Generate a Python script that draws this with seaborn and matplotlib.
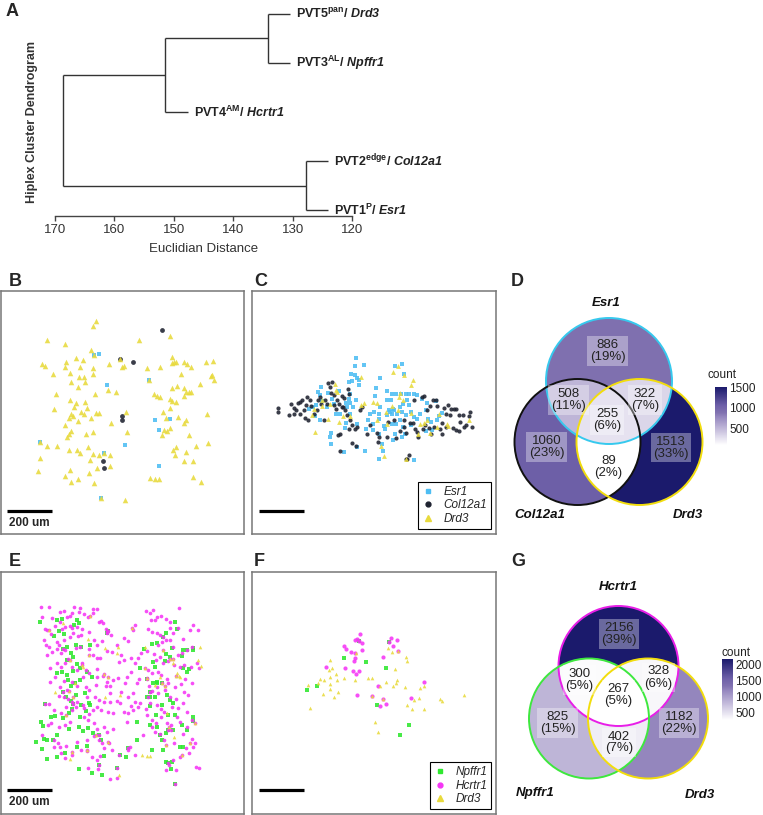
import numpy as np
import matplotlib
matplotlib.use("Agg")
import matplotlib.pyplot as plt
import seaborn as sns
from matplotlib.patches import Circle
from matplotlib.colors import LinearSegmentedColormap, Normalize
from matplotlib.lines import Line2D

sns.set_theme(style="white")
plt.rcParams["font.family"] = ["Liberation Sans", "DejaVu Sans"]
plt.rcParams["mathtext.fontset"] = "custom"
plt.rcParams["mathtext.rm"] = "Liberation Sans"
plt.rcParams["mathtext.bf"] = "Liberation Sans:bold"
plt.rcParams["mathtext.it"] = "Liberation Sans:italic"
try:
    plt.rcParams["mathtext.bfit"] = "Liberation Sans:bold:italic"
    BFIT = r"\mathbfit"
except KeyError:
    BFIT = r"\mathit"

# ---------------- data ----------------
# A: dendrogram (Euclidian distance of merges)
leaf_names = ["PVT5", "PVT3", "PVT4", "PVT2", "PVT1"]
leaf_sup = ["pan", "AL", "AM", "edge", "P"]
leaf_genes = ["Drd3", "Npffr1", "Hcrtr1", "Col12a1", "Esr1"]
h_53 = 134.2
h_534 = 151.4
h_21 = 127.8
h_root = 168.7
hang = 3.8
dist_ticks = [170, 160, 150, 140, 130, 120]

# spatial coordinates (image px, y down); 200 um bar = 135 px
UM_BAR = 200
PX_PER_UM = 135 / 200

b_esr1 = np.array([(282, 344), (298, 342), (322, 434), (446, 419), (465, 540), (509, 536),
                   (477, 570), (374, 614), (119, 605), (311, 638), (476, 676), (304, 773)])
b_col12a1 = np.array([(487, 269), (398, 366), (360, 355), (365, 528), (366, 540), (309, 661),
                      (311, 682)])
b_drd3 = np.array([
    (287, 243), (280, 256), (142, 300), (195, 312), (417, 300), (510, 288), (272, 328), (126, 372),
    (134, 378), (198, 366), (229, 352), (250, 358), (195, 380), (239, 379), (278, 382), (327, 372),
    (365, 380), (372, 376), (440, 384), (481, 381), (517, 350), (522, 366), (517, 369), (528, 365),
    (552, 364), (560, 372), (574, 380), (618, 366), (640, 362), (158, 402), (209, 399), (278, 402),
    (238, 411), (251, 411), (254, 424), (214, 425), (233, 441), (324, 450), (349, 455), (286, 460),
    (542, 402), (637, 404), (643, 418), (634, 407), (600, 430), (516, 442), (531, 438), (553, 442),
    (558, 456), (566, 455), (572, 455), (552, 468), (167, 462), (462, 462), (470, 466), (479, 470),
    (510, 477), (517, 481), (528, 485), (162, 507), (210, 480), (227, 487), (223, 500), (256, 485),
    (261, 502), (242, 516), (253, 520), (287, 518), (298, 518), (214, 521), (220, 528), (208, 533),
    (234, 541), (273, 534), (378, 515), (334, 548), (489, 514), (510, 503), (535, 531), (497, 532),
    (557, 538), (551, 549), (622, 521), (196, 553), (214, 571), (206, 582), (202, 589), (258, 580),
    (280, 574), (380, 575), (493, 569), (502, 573), (511, 562), (485, 585), (566, 583), (142, 617),
    (172, 617), (207, 629), (230, 628), (240, 638), (264, 621), (296, 645), (278, 640), (330, 645),
    (529, 621), (518, 628), (526, 643), (557, 636), (587, 618), (624, 608), (120, 653), (271, 660),
    (291, 682), (330, 676), (552, 661), (580, 663), (115, 692), (210, 690), (196, 706), (266, 697),
    (213, 726), (234, 717), (281, 729), (450, 713), (466, 716), (478, 715), (580, 710), (603, 725),
    (375, 778), (282, 344), (446, 419), (119, 605), (311, 638), (304, 773), (360, 355)])

c_esr1 = np.array([
    (348, 352), (372, 374), (343, 377), (332, 400), (345, 405), (349, 412), (355, 418), (327, 425),
    (334, 423), (355, 435), (418, 414), (406, 444), (441, 452), (456, 462), (465, 377), (486, 372),
    (490, 402), (243, 440), (232, 455), (240, 465), (262, 459), (297, 453), (330, 460), (326, 477),
    (316, 488), (319, 500), (330, 488), (338, 500), (348, 478), (405, 468), (440, 478), (452, 480),
    (468, 462), (482, 460), (497, 460), (507, 462), (520, 460), (529, 465), (546, 475), (500, 478),
    (505, 495), (488, 490), (480, 500), (457, 506), (450, 516), (454, 522), (460, 510), (420, 500),
    (402, 515), (415, 520), (390, 522), (384, 540), (376, 567), (397, 552), (417, 535), (440, 525),
    (446, 510), (470, 520), (484, 516), (511, 515), (498, 525), (520, 530), (530, 535), (511, 555),
    (489, 560), (478, 540), (468, 550), (456, 552), (430, 558), (415, 580), (398, 570), (433, 565),
    (464, 580), (493, 580), (486, 590), (459, 600), (424, 612), (428, 633), (415, 655), (373, 632),
    (351, 620), (310, 635), (271, 578), (270, 590), (271, 612), (314, 562), (330, 520), (318, 548),
    (300, 520), (287, 520), (238, 540), (225, 528), (217, 500), (207, 505), (227, 495), (244, 483),
    (260, 500), (280, 490), (274, 475), (540, 520), (556, 510), (563, 535), (572, 545), (590, 540),
    (595, 528), (604, 518), (587, 483), (560, 487), (521, 660), (575, 568), (557, 572), (349, 552)])
c_col12a1 = np.array([
    (113, 503), (114, 514), (146, 524), (152, 492), (160, 502), (167, 510), (178, 520), (180, 485),
    (184, 480), (191, 508), (193, 532), (200, 470), (209, 480), (213, 498), (220, 522), (230, 510),
    (232, 478), (238, 470), (242, 492), (254, 478), (259, 490), (264, 428), (275, 425), (268, 440),
    (272, 458), (280, 465), (282, 495), (287, 505), (290, 478), (295, 490), (305, 500), (306, 468),
    (312, 473), (314, 510), (320, 525), (322, 445), (325, 460), (330, 540), (336, 555), (343, 565),
    (300, 580), (292, 583), (298, 632), (336, 607), (346, 618), (390, 553), (380, 580), (409, 578),
    (412, 606), (440, 590), (467, 592), (478, 573), (490, 560), (498, 578), (508, 549), (519, 549),
    (525, 565), (533, 590), (545, 470), (552, 466), (560, 510), (569, 497), (577, 478), (586, 480),
    (590, 498), (598, 565), (606, 580), (612, 502), (616, 520), (622, 495), (628, 525), (632, 505),
    (640, 506), (647, 506), (655, 525), (660, 545), (667, 524), (670, 560), (677, 554), (686, 527),
    (690, 515), (694, 560), (655, 572), (647, 570), (637, 563), (616, 560), (606, 548), (580, 560),
    (572, 580), (566, 562), (555, 555), (548, 565), (530, 575), (505, 645), (500, 655), (497, 657),
    (462, 540), (442, 545), (417, 590), (365, 500), (358, 510), (350, 560), (326, 567), (308, 500),
    (250, 540), (197, 495), (174, 488), (160, 520), (204, 540), (490, 540), (520, 480)])
c_drd3 = np.array([
    (225, 575), (285, 430), (290, 455), (288, 450), (268, 492), (262, 537), (246, 497), (222, 505),
    (214, 523), (297, 545), (309, 528), (362, 410), (362, 493), (370, 488), (398, 486), (410, 487),
    (454, 497), (474, 376), (458, 396), (490, 405), (517, 418), (513, 433), (480, 458), (487, 480),
    (473, 510), (512, 517), (540, 550), (552, 548), (560, 540), (570, 578), (590, 560), (620, 550),
    (624, 558), (686, 540), (436, 515), (441, 550), (410, 540), (421, 617), (430, 648), (497, 657),
    (532, 580), (595, 520), (475, 470), (245, 478), (328, 527)])

e_npffr1 = np.array([
    (121, 247), (172, 240), (187, 237), (163, 287), (178, 272), (192, 283), (222, 255), (232, 240),
    (238, 250), (202, 322), (212, 340), (228, 315), (243, 320), (270, 316), (200, 360), (219, 350),
    (230, 372), (240, 383), (218, 392), (185, 395), (170, 398), (200, 404), (205, 420), (214, 438),
    (224, 430), (240, 420), (262, 395), (276, 410), (255, 460), (229, 466), (197, 470), (212, 483),
    (242, 494), (216, 507), (258, 513), (269, 496), (166, 528), (189, 535), (208, 518), (240, 530),
    (268, 488), (124, 545), (154, 532), (130, 558), (170, 584), (207, 568), (238, 560), (250, 572),
    (265, 565), (280, 580), (131, 596), (108, 606), (125, 627), (140, 600), (160, 600), (194, 640),
    (232, 620), (262, 618), (302, 600), (313, 647), (142, 658), (172, 650), (237, 686), (275, 700),
    (306, 704), (360, 645), (377, 650), (412, 545), (410, 600), (431, 327), (421, 385), (457, 312),
    (471, 310), (490, 291), (499, 278), (526, 247), (532, 268), (517, 325), (548, 330), (560, 330),
    (580, 325), (546, 348), (509, 350), (498, 342), (458, 367), (466, 382), (470, 425), (458, 430),
    (472, 428), (485, 430), (450, 470), (466, 470), (500, 465), (510, 480), (520, 490), (525, 525),
    (505, 525), (487, 495), (468, 525), (451, 555), (470, 560), (480, 585), (498, 580), (520, 570),
    (560, 570), (545, 555), (548, 620), (490, 630), (457, 630), (486, 600), (498, 667), (517, 665),
    (513, 686), (541, 620), (580, 530), (580, 330), (550, 385), (566, 388), (560, 395), (578, 543),
    (442, 470), (449, 497), (494, 364),
    (190, 327), (134, 493), (190, 455), (220, 493), (297, 585), (297, 675), (352, 684), (384, 625),
    (440, 416), (450, 455), (525, 732), (505, 570), (505, 670), (320, 280), (325, 272)])
e_hcrtr1 = np.array([
    (124, 200), (148, 200), (181, 215), (193, 214), (222, 200), (240, 203), (278, 206), (290, 207),
    (125, 231), (157, 234), (165, 258), (181, 245), (200, 232), (210, 229), (216, 218), (238, 215),
    (251, 222), (185, 266), (195, 262), (211, 258), (215, 265), (232, 262), (246, 268), (264, 230),
    (278, 220), (297, 245), (303, 242), (308, 248), (317, 266), (321, 275), (333, 284), (134, 268),
    (140, 270), (152, 283), (132, 300), (137, 316), (146, 322), (170, 306), (176, 316), (193, 300),
    (210, 290), (219, 280), (233, 287), (244, 285), (267, 277), (283, 300), (291, 314), (306, 304),
    (350, 314), (372, 294), (385, 304), (398, 270), (404, 255), (140, 345), (156, 337), (170, 328),
    (184, 340), (195, 330), (228, 323), (239, 322), (266, 327), (278, 346), (290, 355), (301, 355),
    (321, 333), (335, 335), (150, 385), (170, 370), (182, 380), (196, 368), (204, 357), (216, 380),
    (230, 389), (247, 370), (259, 391), (268, 400), (292, 388), (292, 410), (310, 408), (320, 425),
    (330, 438), (340, 420), (353, 414), (150, 425), (166, 410), (180, 440), (191, 424), (201, 450),
    (216, 425), (230, 438), (250, 410), (258, 440), (268, 450), (288, 436), (318, 437), (330, 458),
    (177, 467), (191, 470), (204, 478), (215, 485), (232, 487), (249, 495), (260, 470), (285, 470),
    (298, 480), (313, 486), (330, 487), (352, 483), (360, 488), (148, 492), (162, 510), (183, 520),
    (199, 500), (215, 510), (229, 502), (253, 505), (268, 521), (278, 510), (290, 500), (304, 510),
    (325, 515), (339, 519), (372, 515), (393, 498), (405, 485), (154, 548), (143, 555), (177, 560),
    (194, 555), (211, 545), (252, 530), (263, 540), (283, 550), (290, 568), (311, 560), (321, 575),
    (338, 566), (127, 585), (162, 600), (175, 608), (180, 620), (199, 617), (232, 606), (260, 600),
    (281, 588), (296, 600), (305, 610), (312, 625), (327, 610), (336, 630), (161, 622), (182, 640),
    (195, 654), (215, 646), (242, 630), (262, 634), (277, 650), (290, 660), (300, 648), (356, 645),
    (390, 620), (385, 630), (264, 684), (293, 688), (330, 717), (350, 714),
    (437, 212), (450, 218), (460, 210), (537, 203), (452, 240), (465, 240), (471, 232), (482, 228),
    (497, 238), (510, 246), (445, 268), (455, 276), (470, 280), (480, 285), (488, 290), (498, 300),
    (510, 265), (520, 278), (535, 265), (569, 270), (578, 255), (595, 270), (474, 315), (485, 305),
    (510, 300), (518, 320), (533, 345), (545, 340), (560, 330), (577, 320), (548, 298), (441, 332),
    (462, 343), (467, 360), (481, 350), (490, 368), (505, 362), (521, 375), (540, 380), (553, 375),
    (574, 380), (590, 370), (598, 385), (445, 390), (455, 400), (473, 395), (483, 405), (500, 418),
    (505, 430), (525, 440), (542, 433), (555, 418), (576, 430), (446, 438), (456, 452), (471, 440),
    (475, 460), (495, 450), (510, 470), (527, 478), (552, 455), (565, 465), (443, 470), (450, 490),
    (470, 495), (482, 508), (493, 515), (517, 500), (533, 505), (549, 490), (560, 515), (437, 507),
    (421, 490), (440, 525), (455, 540), (469, 550), (484, 530), (500, 548), (514, 555), (531, 530),
    (540, 545), (560, 560), (575, 540), (456, 560), (465, 575), (481, 582), (493, 600), (513, 570),
    (521, 610), (548, 582), (575, 596), (585, 610), (578, 620), (558, 625), (567, 640), (587, 680),
    (597, 685), (540, 650), (520, 660), (508, 675), (498, 690), (527, 690), (430, 585), (405, 645),
    (356, 365), (362, 345), (372, 360), (394, 355), (404, 368), (415, 355), (422, 340), (392, 395),
    (380, 410), (375, 430), (410, 430), (416, 418), (400, 460), (385, 470), (363, 456), (384, 520),
    (400, 510), (413, 500), (380, 545),
    (270, 229), (146, 269), (209, 360), (268, 346), (245, 375), (208, 453), (218, 470), (313, 403),
    (325, 412), (197, 525), (287, 585), (260, 630), (325, 605), (215, 635), (397, 265), (490, 330),
    (510, 357), (520, 357), (528, 408), (485, 430), (495, 437), (585, 550), (507, 560), (497, 615),
    (545, 645), (570, 610), (435, 385), (441, 414),
    (190, 327), (134, 493), (190, 455), (220, 493), (297, 585), (297, 675), (352, 684), (384, 625),
    (440, 416), (450, 455), (525, 732), (505, 570), (505, 670), (320, 280), (325, 272)])
e_drd3 = np.array([
    (265, 297), (314, 325), (350, 340), (355, 320), (600, 322), (595, 360), (603, 377), (435, 320),
    (520, 370), (480, 410), (466, 435), (530, 400), (540, 410), (165, 456), (226, 430), (314, 470),
    (359, 465), (210, 658), (358, 705), (425, 645), (440, 648), (449, 648), (500, 520), (522, 590),
    (537, 408), (248, 380), (188, 250),
    (270, 229), (146, 269), (209, 360), (268, 346), (245, 375), (208, 453), (218, 470), (313, 403),
    (325, 412), (197, 525), (287, 585), (260, 630), (325, 605), (215, 635), (397, 265), (490, 330),
    (510, 357), (520, 357), (528, 408), (485, 430), (495, 437), (585, 550), (507, 560), (497, 615),
    (545, 645), (570, 610), (435, 385), (441, 414)])

f_npffr1 = np.array([(312, 354), (377, 367), (437, 385), (229, 438), (200, 450), (411, 494),
                     (505, 554), (480, 584), (356, 303), (447, 307)])
f_hcrtr1 = np.array([
    (358, 282), (344, 300), (351, 298), (366, 310), (312, 318), (317, 328), (331, 336), (365, 329),
    (345, 340), (344, 355), (341, 364), (313, 383), (339, 392), (355, 394), (348, 402), (256, 380),
    (452, 295), (470, 300), (446, 307), (458, 319), (427, 351), (414, 438), (351, 465), (420, 497),
    (436, 491), (511, 473), (550, 427), (356, 303), (474, 332), (396, 468), (427, 478)])
f_drd3 = np.array([
    (269, 360), (266, 389), (274, 384), (287, 402), (270, 410), (240, 418), (251, 421), (232, 428),
    (204, 435), (268, 432), (291, 420), (270, 447), (294, 457), (247, 463), (280, 472), (208, 503),
    (312, 415), (345, 420), (383, 414), (395, 414), (437, 425), (458, 437), (467, 430), (470, 420),
    (442, 325), (455, 337), (497, 350), (501, 362), (464, 387), (494, 441), (540, 443), (550, 438),
    (536, 475), (520, 480), (500, 494), (515, 507), (551, 507), (600, 476), (606, 484), (670, 466),
    (418, 437), (404, 545), (412, 576), (346, 339), (474, 332), (396, 468), (427, 478)])

# Venn counts; region membership as indices into the set names
venn_regions = [(0,), (1,), (2,), (0, 1), (0, 2), (1, 2), (0, 1, 2)]
d_sets = ["Esr1", "Col12a1", "Drd3"]
d_counts = [886, 1060, 1513, 508, 322, 89, 255]
d_ticks = [500, 1000, 1500]
g_sets = ["Hcrtr1", "Npffr1", "Drd3"]
g_counts = [2156, 825, 1182, 300, 328, 402, 267]
g_ticks = [500, 1000, 1500, 2000]

# ---------------- styles ----------------
COL_ESR1 = "#4dbdf3"
COL_COL12 = "#1e2230"
COL_DRD3 = "#e8da3c"
COL_NPFFR1 = "#2fe82f"
COL_HCRTR1 = "#f535f5"
VENN_CMAP = LinearSegmentedColormap.from_list(
    "venn", [(0, "#ffffff"), (0.16, "#dcd7ea"), (0.3, "#bdb4d7"), (0.48, "#9688bf"),
             (0.56, "#8071b0"), (0.68, "#6e60a8"), (1.0, "#1b1a6c")])

W, H = 763, 815
fig = plt.figure(figsize=(W / 100, H / 100), dpi=100)


def px_axes(x0, y0, x1, y1):
    return fig.add_axes([x0 / W, 1 - y1 / H, (x1 - x0) / W, (y1 - y0) / H])


def panel_letter(x, y, s):
    fig.text(x / W, 1 - y / H, s, fontsize=13, fontweight="bold", ha="left", va="center")


# ---------------- A: dendrogram ----------------
ax = px_axes(55, 8, 352, 216)
ax.set_xlim(170, 120)
ax.set_ylim(0.878, 5.122)
leaf_y = dict(zip(leaf_names, [5, 4, 3, 2, 1]))
line_kw = dict(color="#333333", lw=1.0, solid_capstyle="butt")


def node_pos(node, parent_h):
    # returns (y, height) of a node, drawing its subtree
    if isinstance(node, str):
        i = leaf_names.index(node)
        tip = parent_h - hang
        lbl = (leaf_names[i] + r"$^{\mathbf{" + leaf_sup[i] + r"}}$/ $" + BFIT + "{"
               + leaf_genes[i] + "}$")
        ax.annotate(lbl, xy=(tip, leaf_y[node]), xytext=(4, 0), textcoords="offset points",
                    ha="left", va="center", fontsize=9, fontweight="bold", color="#222222",
                    annotation_clip=False)
        return leaf_y[node], tip
    left, right, h = node
    yl, hl = node_pos(left, h)
    yr, hr = node_pos(right, h)
    ax.plot([h, h], [yl, yr], **line_kw)
    ax.plot([hl, h], [yl, yl], **line_kw)
    ax.plot([hr, h], [yr, yr], **line_kw)
    return (yl + yr) / 2, h


tree = ((("PVT5", "PVT3", h_53), "PVT4", h_534), ("PVT2", "PVT1", h_21), h_root)
node_pos(tree, h_root)
sns.despine(ax=ax, left=True, top=True, right=True)
ax.spines["bottom"].set_color("#444444")
ax.spines["bottom"].set_linewidth(1.0)
ax.spines["bottom"].set_bounds(170, 120)
ax.set_xticks(dist_ticks)
ax.set_yticks([])
ax.tick_params(axis="x", bottom=True, length=3.5, width=1, color="#444444", labelsize=9.5,
               labelcolor="#333333", pad=2)
ax.set_xlabel("Euclidian Distance", fontsize=9.5, color="#333333", labelpad=5)
fig.text(32 / W, 1 - 122 / H, "Hiplex Cluster Dendrogram", rotation=90, fontsize=9,
         fontweight="bold", color="#333333", ha="center", va="center")
panel_letter(6, 12, "A")


# ---------------- B, C, E, F: spatial scatter ----------------
def scatter_panel(rect, lims, layers, bar_y, bar_x0, show_text, legend=None):
    ax = px_axes(*rect)
    for pts, marker, color, size in layers:
        sns.scatterplot(x=pts[:, 0], y=pts[:, 1], marker=marker, color=color, s=size,
                        linewidth=0, alpha=0.88, ax=ax, legend=False)
    ax.set_xlim(lims[0], lims[1])
    ax.set_ylim(lims[3], lims[2])
    ax.set_xticks([])
    ax.set_yticks([])
    ax.set_xlabel("")
    ax.set_ylabel("")
    for s in ax.spines.values():
        s.set_visible(True)
        s.set_color("#777777")
        s.set_linewidth(1.1)
    bar_len = UM_BAR * PX_PER_UM
    ax.plot([bar_x0, bar_x0 + bar_len], [bar_y, bar_y], color="black", lw=2.3,
            solid_capstyle="butt")
    if show_text:
        ax.text(bar_x0 + bar_len / 2, bar_y + 36, f"{UM_BAR} um", ha="center", va="center",
                fontsize=8.5, fontweight="bold")
    if legend:
        handles = [Line2D([], [], ls="none", marker=m, color=c, markersize=ms, label=lab)
                   for lab, m, c, ms in legend]
        leg = ax.legend(handles=handles, loc="lower right", prop={"style": "italic", "size": 8.5},
                        frameon=True, fancybox=False, edgecolor="black", framealpha=1,
                        borderaxespad=0.4, borderpad=0.35, handlelength=1.0,
                        handletextpad=0.8, labelspacing=0.12)
        leg.get_frame().set_linewidth(0.8)
    return ax


scatter_panel((1, 291, 243.5, 533.5), (3, 730, 152, 880),
              [(b_esr1, "s", COL_ESR1, 12), (b_col12a1, "o", COL_COL12, 12),
               (b_drd3, "^", COL_DRD3, 16)], 812, 20, True)
scatter_panel((252.5, 291, 496, 533.5), (37, 767, 152, 880),
              [(c_esr1, "s", COL_ESR1, 9), (c_col12a1, "o", COL_COL12, 9),
               (c_drd3, "^", COL_DRD3, 12)], 812, 57, False,
              legend=[("Esr1", "s", COL_ESR1, 3.5), ("Col12a1", "o", COL_COL12, 3.5),
                      ("Drd3", "^", COL_DRD3, 4.5)])
scatter_panel((1, 571.5, 243.5, 814), (3, 730, 95, 822),
              [(e_npffr1, "s", COL_NPFFR1, 7), (e_hcrtr1, "o", COL_HCRTR1, 7),
               (e_drd3, "^", COL_DRD3, 7)], 750, 20, True)
scatter_panel((252.5, 571.5, 496, 814), (37, 767, 95, 822),
              [(f_npffr1, "s", COL_NPFFR1, 9), (f_hcrtr1, "o", COL_HCRTR1, 9),
               (f_drd3, "^", COL_DRD3, 7)], 750, 57, False,
              legend=[("Npffr1", "s", COL_NPFFR1, 3.5), ("Hcrtr1", "o", COL_HCRTR1, 3.5),
                      ("Drd3", "^", COL_DRD3, 4.5)])
panel_letter(9, 281, "B")
panel_letter(254, 281, "C")
panel_letter(9, 561, "E")
panel_letter(254, 561, "F")


# ---------------- D, G: Venn diagrams ----------------
def venn_panel(rect, centers, radius, edges, sets, counts, label_xy, name_xy,
               cbar_rect, ticks, count_xy):
    x0, y0, x1, y1 = rect
    ax = px_axes(*rect)
    xs = np.linspace(x0, x1, int((x1 - x0) * 3))
    ys = np.linspace(y0, y1, int((y1 - y0) * 3))
    X, Y = np.meshgrid(xs, ys)
    code = np.zeros(X.shape, dtype=int)
    for i, (cx, cy) in enumerate(centers):
        code += ((X - cx) ** 2 + (Y - cy) ** 2 <= radius ** 2).astype(int) << i
    vals = np.full(X.shape, np.nan)
    for members, n in zip(venn_regions, counts):
        vals[code == sum(1 << m for m in members)] = n
    norm = Normalize(min(counts), max(counts))
    im = ax.imshow(vals, extent=(x0, x1, y1, y0), origin="upper", cmap=VENN_CMAP, norm=norm,
                   interpolation="bilinear")
    for (cx, cy), ec in zip(centers, edges):
        ax.add_patch(Circle((cx, cy), radius, fill=False, ec=ec, lw=1.4))
    total = sum(counts)
    for (tx, ty), n in zip(label_xy, counts):
        ax.text(tx, ty, f"{n}\n({round(100 * n / total)}%)", ha="center", va="center",
                fontsize=9.5, color="#222222", linespacing=1.0,
                bbox=dict(boxstyle="square,pad=0.2", fc="white", ec="none", alpha=0.35))
    for (tx, ty), s in zip(name_xy, sets):
        ax.text(tx, ty, s, ha="center", va="center", fontsize=9.5, fontweight="bold",
                fontstyle="italic", color="#111111")
    ax.set_xlim(x0, x1)
    ax.set_ylim(y1, y0)
    ax.axis("off")
    cax = px_axes(*cbar_rect)
    cb = fig.colorbar(im, cax=cax, ticks=ticks)
    cb.outline.set_visible(False)
    cax.tick_params(axis="y", direction="in", length=2.5, width=0.8, color="white",
                    labelsize=8.5, labelcolor="#222222", pad=1.5)
    fig.text(count_xy[0] / W, 1 - count_xy[1] / H, "count", fontsize=8.5, color="#222222",
             ha="left", va="center")


venn_panel((505, 292, 712, 528),
           [(609, 381), (577.5, 442), (639.5, 442)], 63, ["#36c9ee", "#111111", "#f2dd0c"],
           d_sets, d_counts,
           [(607.5, 351), (546.5, 447), (671, 447.5), (568.5, 400), (645, 400), (608.5, 467),
            (607, 420)],
           [(606.5, 302.5), (540, 515), (688, 515)],
           (715, 387, 727, 445), d_ticks, (708, 375))
venn_panel((505, 572, 718, 810),
           [(618.5, 666), (589, 718.5), (648, 718.5)], 60, ["#e81ee8", "#3ee83e", "#f2dd0c"],
           g_sets, g_counts,
           [(619, 634), (557.5, 723), (679, 723), (579.5, 680), (658.5, 677.5), (619, 742.5),
            (618.5, 695)],
           [(618.5, 587), (535, 793), (700, 795)],
           (722, 659, 733, 720), g_ticks, (721, 653))
panel_letter(511, 281, "D")
panel_letter(511, 561, "G")

fig.savefig("out.png", dpi=100)
